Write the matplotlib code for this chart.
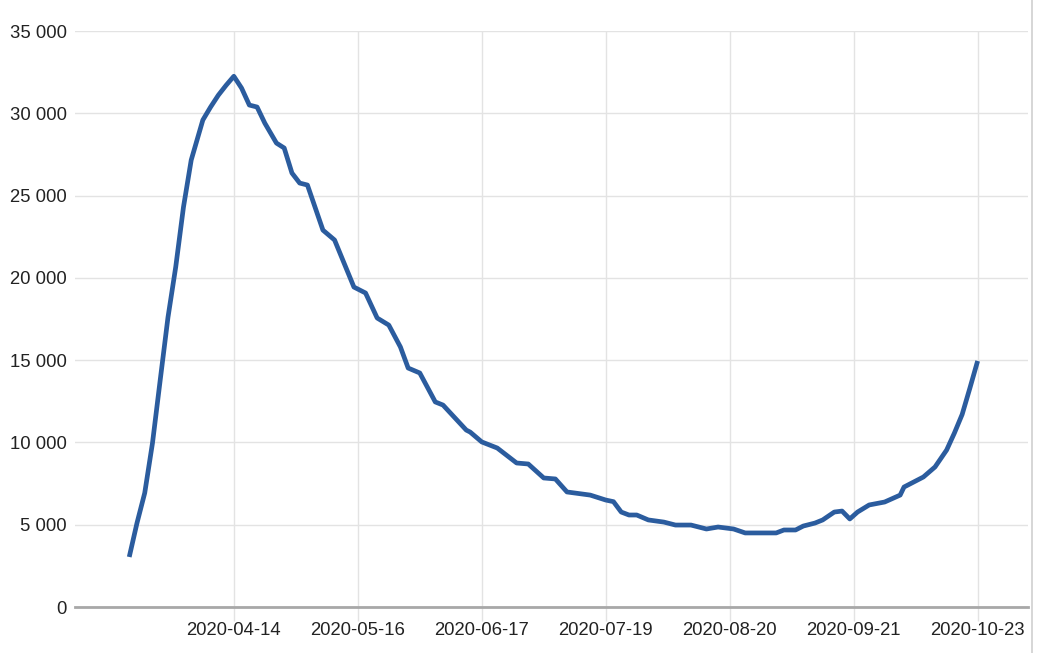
import matplotlib
matplotlib.use("Agg")
import matplotlib.pyplot as plt
from matplotlib.ticker import FuncFormatter
from matplotlib.lines import Line2D
import pandas as pd

dates = ["2020-03-18", "2020-03-20", "2020-03-22", "2020-03-24", "2020-03-26", "2020-03-28",
         "2020-03-30", "2020-04-01", "2020-04-03", "2020-04-06", "2020-04-08", "2020-04-10",
         "2020-04-12", "2020-04-14", "2020-04-16", "2020-04-18", "2020-04-20", "2020-04-22",
         "2020-04-25", "2020-04-27", "2020-04-29", "2020-05-01", "2020-05-03", "2020-05-07",
         "2020-05-10", "2020-05-15", "2020-05-18", "2020-05-21", "2020-05-24", "2020-05-27",
         "2020-05-29", "2020-06-01", "2020-06-05", "2020-06-07", "2020-06-13", "2020-06-14",
         "2020-06-17", "2020-06-21", "2020-06-26", "2020-06-29", "2020-07-03", "2020-07-06",
         "2020-07-09", "2020-07-15", "2020-07-19", "2020-07-21", "2020-07-23", "2020-07-25",
         "2020-07-27", "2020-07-30", "2020-08-03", "2020-08-06", "2020-08-10", "2020-08-14",
         "2020-08-17", "2020-08-21", "2020-08-24", "2020-09-01", "2020-09-03", "2020-09-06",
         "2020-09-08", "2020-09-11", "2020-09-13", "2020-09-16", "2020-09-18", "2020-09-20",
         "2020-09-22", "2020-09-25", "2020-09-29", "2020-10-03", "2020-10-04", "2020-10-09",
         "2020-10-12", "2020-10-15", "2020-10-17", "2020-10-19", "2020-10-21", "2020-10-23"]
values = [3040, 5100, 6930, 9960, 13800, 17600,
          20660, 24300, 27160, 29590, 30380, 31100,
          31700, 32250, 31530, 30500, 30380, 29400,
          28190, 27890, 26370, 25760, 25640, 22900,
          22300, 19440, 19080, 17560, 17130, 15800,
          14520, 14220, 12460, 12270, 10750, 10630,
          10030, 9660, 8750, 8690, 7840, 7780,
          6990, 6800, 6500, 6400, 5770, 5590,
          5590, 5290, 5160, 4980, 4980, 4740,
          4860, 4740, 4500, 4500, 4680, 4680,
          4920, 5100, 5290, 5770, 5830, 5350,
          5770, 6200, 6380, 6800, 7290, 7900,
          8510, 9540, 10570, 11700, 13300, 14950]

tick_dates = ["2020-04-14", "2020-05-16", "2020-06-17", "2020-07-19",
              "2020-08-20", "2020-09-21", "2020-10-23"]
y_ticks = [0, 5000, 10000, 15000, 20000, 25000, 30000, 35000]

plt.rcParams['font.family'] = ['Liberation Sans', 'DejaVu Sans']

fig = plt.figure(figsize=(10.5, 6.53), dpi=100)
ax = fig.add_axes([75/1050, 1 - 607/653, (1028 - 75)/1050, (607 - 31)/653])

x = pd.to_datetime(dates)
ax.plot(x, values, color="#2b5c9e", lw=3.4, solid_joinstyle="round", solid_capstyle="butt", zorder=3)

ax.set_ylim(0, 35000)
ax.set_xlim(pd.Timestamp("2020-03-04"), pd.Timestamp("2020-11-05"))
ax.set_yticks(y_ticks)
ax.yaxis.set_major_formatter(FuncFormatter(lambda v, p: f"{int(v):,}".replace(",", " ")))
tx = pd.to_datetime(tick_dates)
ax.set_xticks(tx)
ax.set_xticklabels(tick_dates)

ax.grid(True, color="#e3e3e3", lw=1.0, zorder=0)
for s in ["top", "right", "left"]:
    ax.spines[s].set_visible(False)
ax.spines["bottom"].set_color("#a8a8a8")
ax.spines["bottom"].set_linewidth(2.0)
ax.spines["bottom"].set_zorder(2)

ax.tick_params(axis="y", length=0, pad=6, labelsize=13.3, labelcolor="#222222")
ax.tick_params(axis="x", length=10, width=1.0, color="#e3e3e3", pad=1,
               labelsize=13.3, labelcolor="#222222")

fig.add_artist(Line2D([1032/1050, 1032/1050], [0, 1], color="#d0d0d0", lw=1.2,
                      transform=fig.transFigure))

fig.savefig("out.png", dpi=100, facecolor="white")
